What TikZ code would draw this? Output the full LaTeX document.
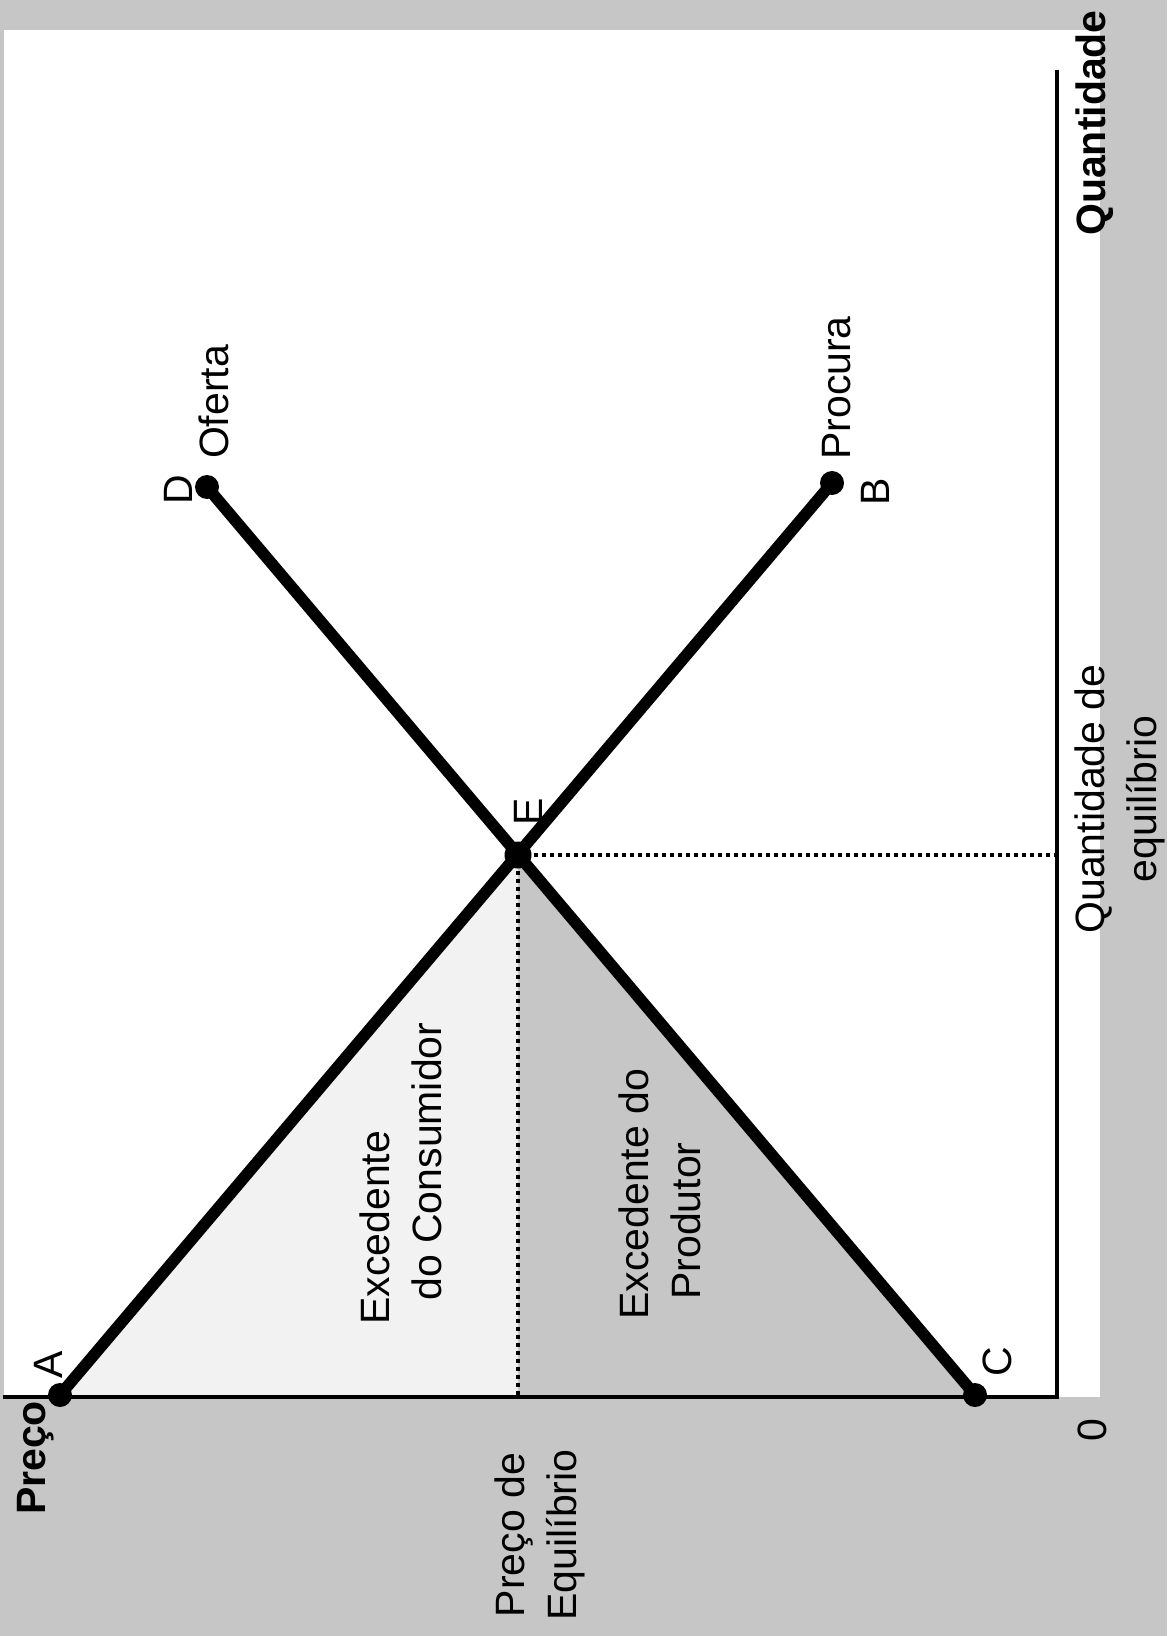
\documentclass[tikz,border=0pt]{standalone}
\usepackage{fontspec}
\setmainfont{Liberation Sans}
\usetikzlibrary{positioning}

\begin{document}
\begin{tikzpicture}[
    x=0.5pt, y=0.5pt,
    dotnode/.style={circle, fill=black, inner sep=0pt, minimum size=12pt},
    curve/.style={line width=5.8pt},
    axis/.style={line width=2pt},
    eqline/.style={line width=1.8pt, dash pattern=on 2pt off 2pt},
    lbl/.style={rotate=90, inner sep=0pt, font=\fontsize{20.5}{26}\selectfont},
    consfill/.style={fill=gray!10},
    prodfill/.style={fill=gray!45}
]
\useasboundingbox (0,0) rectangle (1167,-1636);
% scanned page: grey paper, white plot area
\fill[gray!45] (0,0) rectangle (1167,-1636);
\fill[white] (4,-30) rectangle (1100,-1397);

% points of the two curves
\coordinate (a) at (60,-1395);
\coordinate (b) at (832,-483);
\coordinate (c) at (975,-1395);
\coordinate (d) at (207,-487);
\coordinate (e) at (518,-855);
\coordinate (O) at (1057,-1397);
\coordinate (pmax) at (3,-1397);
\coordinate (qmax) at (1057,-70);
\coordinate (pe) at (e |- O);
\coordinate (qe) at (e -| O);

% surplus areas
\fill[consfill] (a) -- (e) -- (pe) -- cycle;
\fill[prodfill] (c) -- (e) -- (pe) -- cycle;

% axes
\draw[axis] (qmax) -- (O) -- (pmax);
\draw[eqline] (e) -- (pe);
\draw[eqline] (e) -- (qe);

% procura and oferta
\draw[curve] (a) -- (b);
\draw[curve] (c) -- (d);

\node[dotnode] (A) at (a) {};
\node[dotnode] (B) at (b) {};
\node[dotnode] (C) at (c) {};
\node[dotnode] (D) at (d) {};
\node[dotnode, minimum size=13.5pt] (E) at (e) {};

% labels
\node[lbl] (Alab) at (48,-1365) {A};
\node[lbl] (Blab) at (875,-492) {B};
\node[lbl] (Clab) at (997,-1362) {C};
\node[lbl] (Dlab) at (178,-490) {D};
\node[lbl] (Elab) at (528,-812) {E};
\node[lbl] (oferta) at (214,-402) {Oferta};
\node[lbl] (procura) at (837,-388) {Procura};
\node[lbl] (zero) at (1092,-1430) {0};
\node[lbl, font=\fontsize{20.5}{24}\selectfont\bfseries] (preco) at (36,-1458) {Preço};
\node[lbl, font=\fontsize{20.5}{24}\selectfont\bfseries] (quant) at (1095,-123) {Quantidade};
\node[lbl, align=center] (peq) at (540,-1535) {Preço de\\Equilíbrio};
\node[lbl, align=center] (qeq) at (1120,-799) {Quantidade de\\equilíbrio};
\node[lbl, align=left, anchor=west] (exc) at (401,-1325) {Excedente\\\hspace*{12pt}do Consumidor};
\node[lbl, align=left, anchor=west] (exp) at (660,-1320) {Excedente do\\\hspace*{10pt}Produtor};
\end{tikzpicture}
\end{document}
